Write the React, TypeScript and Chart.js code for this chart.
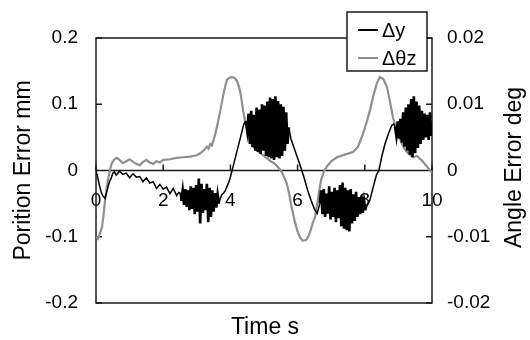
import { useEffect, useRef } from 'react';
import { Chart, registerables } from 'chart.js';

Chart.register(...registerables);

const FONT = 'Liberation Sans, Arial, sans-serif';

const xTickStep = 2;
const leftRange = [-0.2, 0.2];
const rightRange = [-0.02, 0.02];

const seriesLabels = ['\u0394y', '\u0394\u03b8z'];
const axisTitles = ['Time s', 'Porition Error mm', 'Angle Error deg'];

// Δy (mm) time samples and values
const dyTime = [
  0, 0.05, 0.1, 0.15, 0.2, 0.27, 0.33, 0.4, 0.45, 0.5, 0.55, 0.6, 0.7, 0.8, 0.9, 1.0, 1.1, 1.2, 1.3, 1.4, 1.5, 1.6, 1.7, 1.8, 1.9, 2.0, 2.1, 2.2, 2.3, 2.4, 2.46,
  2.5, 2.54, 2.58, 2.62, 2.66, 2.7, 2.74, 2.78, 2.82, 2.86, 2.9, 2.94, 2.98, 3.02, 3.06, 3.1, 3.14, 3.18, 3.22, 3.26, 3.3, 3.34, 3.38, 3.42, 3.46, 3.5, 3.54, 3.58, 3.62, 3.66, 3.7,
  3.75, 3.8, 3.85, 3.9, 3.95, 4.0, 4.05, 4.1, 4.2, 4.3, 4.4, 4.46,
  4.5, 4.54, 4.58, 4.62, 4.66, 4.7, 4.74, 4.78, 4.82, 4.86, 4.9, 4.94, 4.98, 5.02, 5.06, 5.1, 5.14, 5.18, 5.22, 5.26, 5.3, 5.34, 5.38, 5.42, 5.46, 5.5, 5.54, 5.58, 5.62, 5.66, 5.7, 5.74,
  5.8, 5.95, 6.1, 6.2, 6.3, 6.4, 6.5, 6.58, 6.62,
  6.66, 6.7, 6.74, 6.78, 6.82, 6.86, 6.9, 6.94, 6.98, 7.02, 7.06, 7.1, 7.14, 7.18, 7.22, 7.26, 7.3, 7.34, 7.38, 7.42, 7.46, 7.5, 7.54, 7.58, 7.62, 7.66, 7.7, 7.74, 7.78, 7.82, 7.86, 7.9, 7.94, 7.98, 8.02, 8.06,
  8.15, 8.25, 8.35, 8.42, 8.5, 8.6, 8.7, 8.8, 8.86,
  8.9, 8.94, 8.98, 9.02, 9.06, 9.1, 9.14, 9.18, 9.22, 9.26, 9.3, 9.34, 9.38, 9.42, 9.46, 9.5, 9.54, 9.58, 9.62, 9.66, 9.7, 9.74, 9.78, 9.82, 9.86, 9.9, 9.94, 9.98, 10,
];
const dyValues = [
  0, -0.01, -0.022, -0.032, -0.038, -0.042, -0.03, -0.017, -0.012, -0.004, -0.002, -0.007, -0.001, -0.006, -0.004, -0.011, -0.005, -0.01, -0.009, -0.017, -0.011, -0.019, -0.017, -0.027, -0.021, -0.028, -0.025, -0.035, -0.027, -0.038, -0.033,
  -0.034, -0.046, -0.03, -0.052, -0.028, -0.055, -0.03, -0.06, -0.024, -0.058, -0.026, -0.066, -0.022, -0.062, -0.012, -0.08, -0.02, -0.064, -0.028, -0.06, -0.02, -0.078, -0.026, -0.07, -0.03, -0.062, -0.034, -0.056, -0.036, -0.05, -0.042,
  -0.036, -0.034, -0.03, -0.024, -0.018, -0.01, 0.0, 0.01, 0.03, 0.05, 0.07, 0.075,
  0.06, 0.086, 0.04, 0.09, 0.035, 0.084, 0.03, 0.095, 0.028, 0.092, 0.025, 0.1, 0.03, 0.098, 0.022, 0.104, 0.02, 0.11, 0.018, 0.108, 0.016, 0.112, 0.02, 0.105, 0.018, 0.1, 0.022, 0.096, 0.03, 0.088, 0.04, 0.065,
  0.048, 0.026, 0.004, -0.012, -0.03, -0.045, -0.058, -0.065, -0.058,
  -0.05, -0.03, -0.066, -0.028, -0.07, -0.035, -0.065, -0.024, -0.074, -0.032, -0.07, -0.026, -0.078, -0.03, -0.072, -0.022, -0.084, -0.018, -0.088, -0.026, -0.09, -0.03, -0.092, -0.028, -0.08, -0.036, -0.076, -0.032, -0.07, -0.04, -0.066, -0.038, -0.064, -0.046, -0.06, -0.054,
  -0.045, -0.025, -0.006, 0.0, 0.02, 0.04, 0.055, 0.068, 0.07,
  0.066, 0.052, 0.074, 0.048, 0.078, 0.042, 0.088, 0.036, 0.095, 0.03, 0.1, 0.024, 0.108, 0.02, 0.112, 0.026, 0.104, 0.034, 0.098, 0.04, 0.09, 0.046, 0.086, 0.05, 0.084, 0.046, 0.088, 0.052, 0.072,
];

// Δθz (deg) time samples and values
const dthTime = [
  0, 0.06, 0.12, 0.18, 0.23, 0.27, 0.32, 0.37, 0.42, 0.47, 0.55, 0.62, 0.7, 0.8, 0.9, 1.0, 1.1, 1.2, 1.3, 1.4, 1.5, 1.6, 1.7, 1.8, 1.9, 2.0,
  2.2, 2.4, 2.6, 2.8, 3.0, 3.1, 3.2, 3.3, 3.35, 3.4, 3.45, 3.5, 3.55, 3.6, 3.65, 3.7, 3.75, 3.8, 3.85, 3.9, 3.97, 4.04, 4.12, 4.2, 4.25, 4.3, 4.34, 4.38, 4.44,
  4.5, 4.55, 4.6, 4.7, 4.8, 4.9, 5.0, 5.1, 5.2, 5.3, 5.4, 5.5, 5.6, 5.68, 5.75, 5.8, 5.86, 5.92, 6.0, 6.08, 6.16, 6.25, 6.32, 6.4, 6.46, 6.52, 6.56, 6.6, 6.65, 6.7, 6.78, 6.87,
  7.0, 7.17, 7.4, 7.65, 7.8, 7.95, 8.05, 8.15, 8.25, 8.36, 8.45, 8.55, 8.66, 8.75, 8.84, 8.92, 8.99, 9.07, 9.14, 9.25, 9.43, 9.55, 9.7, 9.85, 9.94, 10,
];
const dthValues = [
  -0.01, -0.0103, -0.0095, -0.0085, -0.0065, -0.0045, -0.0025, -0.001, 0.0002, 0.0011, 0.0017, 0.0019, 0.0016, 0.0011, 0.0014, 0.0017, 0.0013, 0.001, 0.0008, 0.0013, 0.0016, 0.0012, 0.001, 0.0014, 0.0012, 0.0016,
  0.0017, 0.0019, 0.002, 0.0021, 0.0023, 0.0026, 0.003, 0.0036, 0.0033, 0.004, 0.0038, 0.0046, 0.0055, 0.0066, 0.0078, 0.009, 0.0104, 0.0117, 0.0128, 0.0137, 0.014, 0.0141, 0.014, 0.0135, 0.0127, 0.0117, 0.0104, 0.009, 0.0074,
  0.006, 0.005, 0.0042, 0.0035, 0.003, 0.0026, 0.0022, 0.0018, 0.0014, 0.0011, 0.0006, 0.0, -0.001, -0.002, -0.0035, -0.005, -0.0064, -0.0078, -0.0092, -0.0102, -0.0106, -0.0105, -0.01, -0.0088, -0.0078, -0.007, -0.0058, -0.0045, -0.0028, -0.0014, -0.0002, 0.0006,
  0.0014, 0.002, 0.0024, 0.0028, 0.0036, 0.0056, 0.0072, 0.009, 0.0112, 0.0132, 0.0141, 0.0138, 0.0126, 0.0104, 0.008, 0.0066, 0.0056, 0.0045, 0.0036, 0.0028, 0.002, 0.0022, 0.0015, 0.0006, 0.0, -0.0003,
];

const fmt = (v: number) => String(Number(Number(v).toFixed(3)));

const framePlugin = {
  id: 'frameAndLegend',
  beforeDatasetsDraw(chart: any) {
    const { ctx, chartArea: a, scales } = chart;
    ctx.save();
    ctx.strokeStyle = '#1a1a1a';
    ctx.lineWidth = 1.5;
    ctx.strokeRect(a.left, a.top, a.right - a.left, a.bottom - a.top);
    const y0 = scales.y.getPixelForValue(0);
    ctx.beginPath();
    ctx.moveTo(a.left, y0);
    ctx.lineTo(a.right, y0);
    scales.x.ticks.forEach((t: any) => {
      const px = scales.x.getPixelForValue(t.value);
      ctx.moveTo(px, y0);
      ctx.lineTo(px, y0 - 6);
    });
    scales.y.ticks.forEach((t: any) => {
      const py = scales.y.getPixelForValue(t.value);
      ctx.moveTo(a.left, py);
      ctx.lineTo(a.left + 6, py);
    });
    scales.y2.ticks.forEach((t: any) => {
      const py = scales.y2.getPixelForValue(t.value);
      ctx.moveTo(a.right, py);
      ctx.lineTo(a.right - 6, py);
    });
    ctx.stroke();
    ctx.restore();
  },
  afterDraw(chart: any) {
    const { ctx, chartArea: a } = chart;
    ctx.save();
    const bw = 80, bh = 59;
    const bx = a.right - 5 - bw;
    const by = a.top - 26;
    ctx.fillStyle = '#fff';
    ctx.fillRect(bx, by, bw, bh);
    ctx.strokeStyle = '#1a1a1a';
    ctx.lineWidth = 1.5;
    ctx.strokeRect(bx, by, bw, bh);
    ctx.font = `20px ${FONT}`;
    ctx.textBaseline = 'middle';
    ctx.textAlign = 'left';
    chart.data.datasets.forEach((ds: any, i: number) => {
      const cy = by + 18 + i * 28;
      ctx.strokeStyle = ds.borderColor;
      ctx.lineWidth = 2;
      ctx.beginPath();
      ctx.moveTo(bx + 11, cy);
      ctx.lineTo(bx + 31, cy);
      ctx.stroke();
      ctx.fillStyle = '#000';
      ctx.fillText(ds.label, bx + 35, cy + 1);
    });
    ctx.translate(chart.width - 15, (a.top + a.bottom) / 2 - 3);
    ctx.rotate(-Math.PI / 2);
    ctx.font = `23px ${FONT}`;
    ctx.textAlign = 'center';
    ctx.textBaseline = 'middle';
    ctx.fillStyle = '#000';
    ctx.fillText(axisTitles[2], 0, 0);
    ctx.restore();
  },
};

export default function App() {
  const ref = useRef<HTMLCanvasElement | null>(null);
  useEffect(() => {
    if (!ref.current) return;
    const chart = new Chart(ref.current, {
      type: 'line',
      data: {
        datasets: [
          {
            label: seriesLabels[0],
            data: dyTime.map((t, i) => ({ x: t, y: dyValues[i] })),
            borderColor: '#000000',
            borderWidth: 1.5,
            pointRadius: 0,
            tension: 0,
            yAxisID: 'y',
            segment: {
              borderWidth: (c: any) =>
                c.p1.parsed.x - c.p0.parsed.x < 0.045 && Math.abs(c.p1.parsed.y - c.p0.parsed.y) > 0.012 ? 2.6 : 1.5,
            },
          } as any,
          {
            label: seriesLabels[1],
            data: dthTime.map((t, i) => ({ x: t, y: dthValues[i] })),
            borderColor: '#8f8f8f',
            borderWidth: 2.2,
            pointRadius: 0,
            tension: 0,
            yAxisID: 'y2',
          },
        ],
      },
      options: {
        responsive: false,
        animation: false,
        devicePixelRatio: 1,
        layout: { padding: { top: 38, left: 0, right: 0, bottom: 0 } },
        scales: {
          x: {
            type: 'linear',
            min: 0,
            max: 10,
            position: { y: 0 } as any,
            grid: { display: false, drawTicks: false },
            border: { display: false },
            ticks: {
              stepSize: xTickStep,
              autoSkip: false,
              maxRotation: 0,
              padding: 19,
              color: '#000',
              font: { family: FONT, size: 19 },
              callback: (v: any) => fmt(v),
            },
          },
          y: {
            type: 'linear',
            position: 'left',
            min: leftRange[0],
            max: leftRange[1],
            grid: { display: false, drawTicks: false },
            border: { display: false },
            ticks: {
              stepSize: 0.1,
              padding: 18,
              color: '#000',
              font: { family: FONT, size: 19 },
              callback: (v: any) => fmt(v),
            },
            title: {
              display: true,
              text: axisTitles[1],
              color: '#000',
              font: { family: FONT, size: 23 },
              padding: { top: 10, bottom: 0 },
            },
            afterFit: (s: any) => { s.width = 96; },
          },
          y2: {
            type: 'linear',
            position: 'right',
            min: rightRange[0],
            max: rightRange[1],
            grid: { display: false, drawTicks: false },
            border: { display: false },
            ticks: {
              stepSize: 0.01,
              padding: 15,
              color: '#000',
              font: { family: FONT, size: 19 },
              callback: (v: any) => fmt(v),
            },
            afterFit: (s: any) => { s.width = 98; },
          },
        },
        plugins: {
          legend: { display: false },
          tooltip: { enabled: false },
          title: {
            display: true,
            position: 'bottom',
            text: axisTitles[0],
            color: '#000',
            font: { family: FONT, size: 23, lineHeight: 1, weight: 'normal' },
            padding: { top: 13.5, bottom: 0.5 },
          },
        },
      },
      plugins: [framePlugin],
    });
    return () => chart.destroy();
  }, []);
  return (
    <div style={{ position: 'absolute', left: 0, top: 0, width: 530, height: 340, background: '#fff' }}>
      <canvas ref={ref} width={530} height={340} style={{ display: 'block' }} />
    </div>
  );
}
